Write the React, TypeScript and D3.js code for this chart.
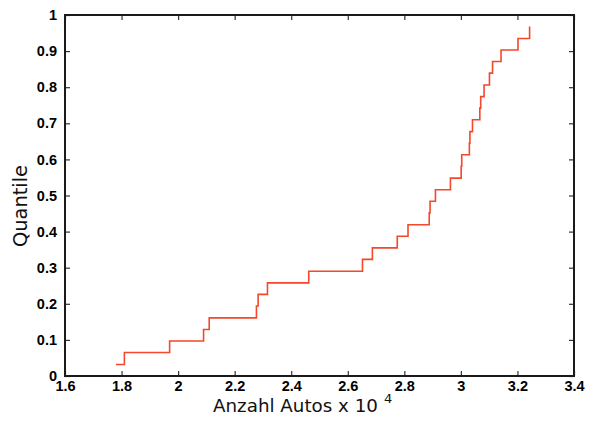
import { useEffect, useRef } from "react";
import * as d3 from "d3";

// sorted car counts (x 10^4)
const autos = [
    1.78, 1.81, 1.97, 2.09, 2.11, 2.277, 2.283, 2.316, 2.462, 2.652,
    2.687, 2.775, 2.813, 2.888, 2.891, 2.91, 2.963, 3.001, 3.003, 3.03,
    3.032, 3.041, 3.067, 3.07, 3.082, 3.101, 3.112, 3.142, 3.202, 3.243,
];
// quantile levels
const quantiles = [
    0.032, 0.065, 0.097, 0.129, 0.161, 0.194, 0.226, 0.258, 0.29, 0.323,
    0.355, 0.387, 0.419, 0.452, 0.484, 0.516, 0.548, 0.581, 0.613, 0.645,
    0.677, 0.71, 0.742, 0.774, 0.806, 0.839, 0.871, 0.903, 0.935, 0.968,
];
const xTicks = [1.6, 1.8, 2, 2.2, 2.4, 2.6, 2.8, 3, 3.2, 3.4];
const yTicks = [0, 0.1, 0.2, 0.3, 0.4, 0.5, 0.6, 0.7, 0.8, 0.9, 1];

const W = 590;
const H = 426;

const App = () => {
    const svgRef = useRef<SVGSVGElement>(null);

    useEffect(() => {
        if (!svgRef.current) return;
        const svg = d3.select(svgRef.current);
        svg.selectAll("*").remove();

        const margin = { top: 15, right: 16, bottom: 50, left: 65 };
        const innerW = W - margin.left - margin.right;
        const innerH = H - margin.top - margin.bottom;

        const x = d3.scaleLinear().domain([1.6, 3.4]).range([0, innerW]);
        const y = d3.scaleLinear().domain([0, 1]).range([innerH, 0]);

        const g = svg.append("g").attr("transform", `translate(${margin.left},${margin.top})`);

        const tickFont = "'Liberation Sans', Arial, sans-serif";
        const fmt = (d: any) => d3.format("")(d);

        // axes with inward ticks
        const styleAxis = (sel: any) => {
            sel.selectAll(".domain").remove();
            sel.selectAll(".tick line").attr("stroke", "#333").attr("stroke-width", 1.2);
            sel.selectAll(".tick text")
                .attr("font-family", tickFont)
                .attr("font-weight", "bold")
                .attr("font-size", "14.5px")
                .attr("fill", "#000");
        };

        g.append("g")
            .attr("transform", `translate(0,${innerH})`)
            .call(d3.axisBottom(x).tickValues(xTicks).tickSize(-5).tickPadding(5).tickFormat(fmt) as any)
            .call(styleAxis);
        g.append("g")
            .call(d3.axisTop(x).tickValues(xTicks).tickSize(-5).tickFormat(() => "") as any)
            .call(styleAxis);
        g.append("g")
            .call(d3.axisLeft(y).tickValues(yTicks).tickSize(-5).tickPadding(8).tickFormat(fmt) as any)
            .call(styleAxis);
        g.append("g")
            .attr("transform", `translate(${innerW},0)`)
            .call(d3.axisRight(y).tickValues(yTicks).tickSize(-5).tickFormat(() => "") as any)
            .call(styleAxis);

        // box
        g.append("rect")
            .attr("x", 0)
            .attr("y", 0)
            .attr("width", innerW)
            .attr("height", innerH)
            .attr("fill", "none")
            .attr("stroke", "#1a1a1a")
            .attr("stroke-width", 2);

        // quantile stairs
        const pts = autos.map((a, i) => [a, quantiles[i]] as [number, number]);
        const line = d3.line<[number, number]>()
            .x((d) => x(d[0]))
            .y((d) => y(d[1]))
            .curve(d3.curveStepAfter);
        g.append("path")
            .datum(pts)
            .attr("d", line)
            .attr("fill", "none")
            .attr("stroke", "#f4472b")
            .attr("stroke-width", 1.6);

        // labels
        const labelFont = "'DejaVu Sans', 'Open Sans', sans-serif";
        svg.append("text")
            .attr("transform", `translate(27,206) rotate(-90)`)
            .attr("text-anchor", "middle")
            .attr("font-family", labelFont)
            .attr("font-size", "19px")
            .attr("textLength", 82)
            .attr("lengthAdjust", "spacingAndGlyphs")
            .attr("fill", "#111")
            .text("Quantile");

        svg.append("text")
            .attr("x", 213)
            .attr("y", 412)
            .attr("font-family", labelFont)
            .attr("font-size", "17px")
            .attr("textLength", 165)
            .attr("lengthAdjust", "spacingAndGlyphs")
            .attr("fill", "#111")
            .text("Anzahl Autos x 10");
        svg.append("text")
            .attr("x", 384)
            .attr("y", 403)
            .attr("font-family", labelFont)
            .attr("font-size", "13px")
            .attr("fill", "#111")
            .text("4");
    }, []);

    return (
        <svg
            ref={svgRef}
            width={W}
            height={H}
            style={{ position: "absolute", top: 0, left: 0, background: "#fff" }}
        />
    );
};

export default App;
